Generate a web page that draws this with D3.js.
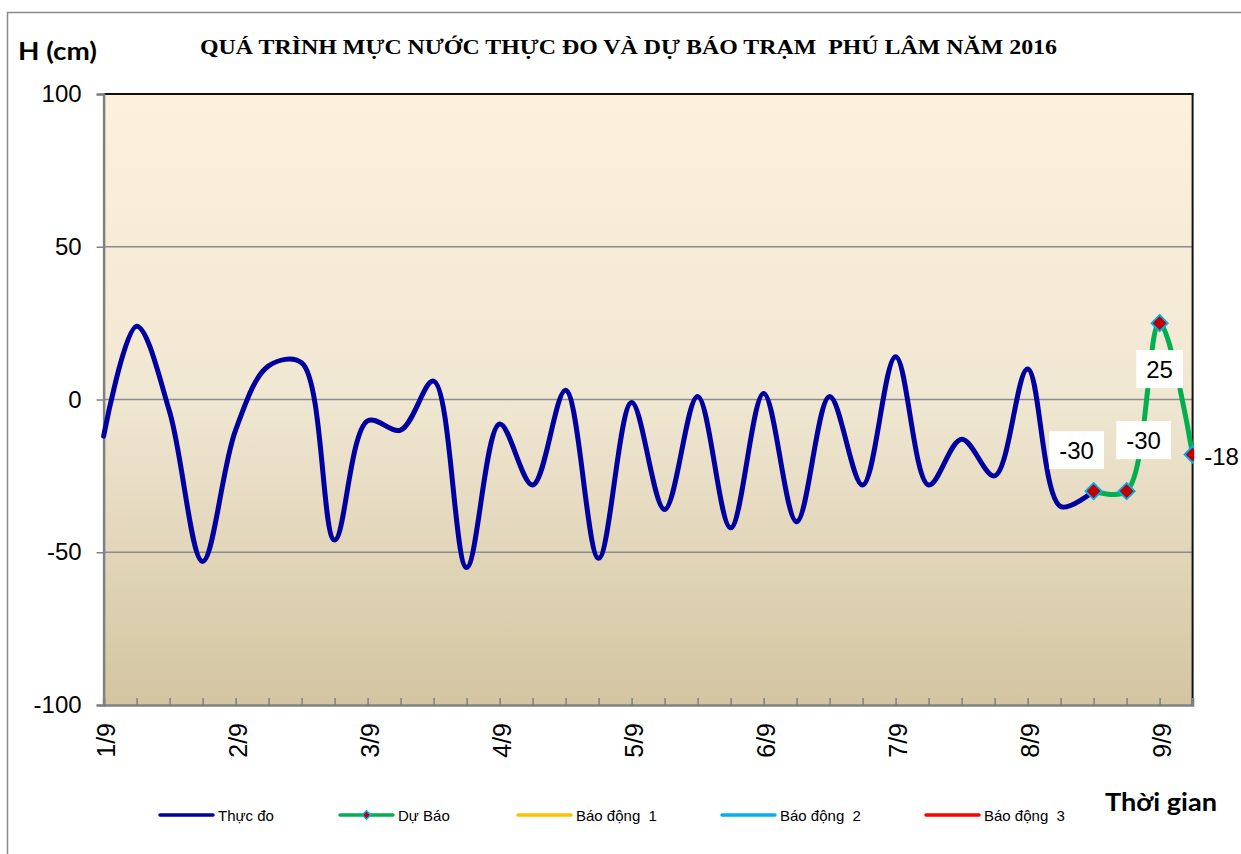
<!DOCTYPE html>
<html><head><meta charset="utf-8">
<script src="https://cdn.jsdelivr.net/npm/d3@7"></script>
<style>
html,body{margin:0;padding:0;background:#fff;}
text{white-space:pre;}
</style></head>
<body>
<svg id="chart" width="1241" height="854"></svg>
<script>
// ---- data ----
const dayLabels = ["1/9","2/9","3/9","4/9","5/9","6/9","7/9","8/9","9/9"];
const stepsPerDay = 4; // 6-hour steps
const observed = [-12, 24, -4, -53, -10, 11, 12, -46, -7, -10, 6, -55, -8, -28, 3, -52, -1, -36, 1, -42, 2, -40, 1, -28, 14, -28, -13, -25, 10, -35, -30];
const forecast = [-30, -30, 25, -18];
const forecastStart = 30;
const yTicks = [-100, -50, 0, 50, 100];
const legendNames = ["Thực đo", "Dự Báo", "Báo động  1", "Báo động  2", "Báo động  3"];
const legendColors = ["#0000a0", "#00b050", "#ffc000", "#00b0f0", "#ff0000"];
const titleText = "QUÁ TRÌNH MỰC NƯỚC THỰC ĐO VÀ DỰ BÁO TRẠM  PHÚ LÂM NĂM 2016";

// ---- layout ----
const nSteps = 33;
const L = 103.6, R = 1192.6, T = 94, B = 705;
const svg = d3.select("#chart");
const x = d3.scaleLinear().domain([0, nSteps]).range([L, R]);
const y = d3.scaleLinear().domain([-100, 100]).range([B, T]);
const sans = "'Liberation Sans', Arial, sans-serif";

// outer frame
svg.append("rect").attr("x", 7.5).attr("y", 12.5).attr("width", 1250).attr("height", 860)
  .attr("fill", "#fff").attr("stroke", "#8a8a8a").attr("stroke-width", 1.5);

// gradient
const defs = svg.append("defs");
const grad = defs.append("linearGradient").attr("id", "bg").attr("x1", 0).attr("y1", 0).attr("x2", 0).attr("y2", 1);
grad.append("stop").attr("offset", "0%").attr("stop-color", "#fef1dc");
grad.append("stop").attr("offset", "50%").attr("stop-color", "#f0e7d2");
grad.append("stop").attr("offset", "100%").attr("stop-color", "#d3c5a1");
svg.append("rect").attr("x", L).attr("y", T).attr("width", R - L).attr("height", B - T).attr("fill", "url(#bg)");

// gridlines
svg.append("g").selectAll("line").data(yTicks.filter(d => d > -100 && d < 100)).join("line")
  .attr("x1", L).attr("x2", R).attr("y1", d => y(d)).attr("y2", d => y(d))
  .attr("stroke", "#8c8c8c").attr("stroke-width", 1.6);

// plot border top/right
svg.append("line").attr("x1", L).attr("x2", R + 1).attr("y1", T).attr("y2", T).attr("stroke", "#111").attr("stroke-width", 2);
svg.append("line").attr("x1", R).attr("x2", R).attr("y1", T).attr("y2", B).attr("stroke", "#111").attr("stroke-width", 2);

// y axis
const yAxis = d3.axisLeft(y).tickValues(yTicks).tickSize(7).tickPadding(15).tickFormat(d => String(d));
const gy = svg.append("g").attr("transform", `translate(${L},0)`).call(yAxis);
gy.select(".domain").attr("stroke", "#808080").attr("stroke-width", 2.5);
gy.selectAll(".tick line").attr("stroke", "#808080").attr("stroke-width", 1.5);
gy.selectAll(".tick text").attr("font-family", sans).attr("font-size", 24).attr("fill", "#000");

// x axis
const xAxis = d3.axisBottom(x).tickValues(d3.range(0, nSteps + 1)).tickSize(-7).tickFormat("");
const gx = svg.append("g").attr("transform", `translate(0,${B})`).call(xAxis);
gx.select(".domain").attr("stroke", "#808080").attr("stroke-width", 2.5);
gx.selectAll(".tick line").attr("stroke", "#808080").attr("stroke-width", 1.5);
svg.append("g").selectAll("text").data(dayLabels).join("text")
  .attr("transform", (d, i) => `translate(${x(i * stepsPerDay) + 2},${B + 18}) rotate(-90)`)
  .attr("text-anchor", "end").attr("dominant-baseline", "central")
  .attr("font-family", sans).attr("font-size", 25).text(d => d);

// lines
const curve = d3.curveCatmullRom.alpha(0.5);
const line = d3.line().x(d => x(d[0])).y(d => y(d[1])).curve(curve);
const obsPts = observed.map((v, i) => [i, v]);
const fcPts = forecast.map((v, i) => [forecastStart + i, v]);
svg.append("path").attr("d", line(obsPts)).attr("fill", "none").attr("stroke", "#0000a0").attr("stroke-width", 5).attr("stroke-linecap", "round");
svg.append("path").attr("d", line(fcPts)).attr("fill", "none").attr("stroke", "#00b050").attr("stroke-width", 5).attr("stroke-linecap", "round");

// markers
const diamond = d3.symbol().type(d3.symbolDiamond2).size(170);
svg.append("g").selectAll("path").data(fcPts).join("path")
  .attr("d", diamond).attr("transform", d => `translate(${x(d[0])},${y(d[1])})`)
  .attr("fill", "#c00000").attr("stroke", "#00b0f0").attr("stroke-width", 1.8);

// data labels (offsets relative to the point)
const labelOffsets = [[-17, -41], [17, -51], [0, 46], [29, 2]];
const lg = svg.append("g");
fcPts.forEach((d, i) => {
  const cx = x(d[0]) + labelOffsets[i][0], cy = y(d[1]) + labelOffsets[i][1];
  const t = lg.append("text").attr("x", cx).attr("y", cy).attr("text-anchor", "middle").attr("dominant-baseline", "central")
    .attr("font-family", sans).attr("font-size", 24).text(String(d[1]));
  const bb = t.node().getBBox();
  lg.insert("rect", "text").attr("x", bb.x - 10).attr("y", cy - 19).attr("width", bb.width + 20).attr("height", 38).attr("fill", "#fff");
});

// titles
svg.append("text").attr("x", 200).attr("y", 54).attr("font-family", "'Liberation Serif', 'Times New Roman', serif")
  .attr("font-weight", "bold").attr("font-size", 21).attr("textLength", 857).attr("lengthAdjust", "spacingAndGlyphs").text(titleText);
svg.append("text").attr("x", 18).attr("y", 60).attr("font-family", "Lato, 'Open Sans', sans-serif")
  .attr("font-weight", "bold").attr("font-size", 25).attr("textLength", 79).attr("lengthAdjust", "spacingAndGlyphs").text("H (cm)");
svg.append("text").attr("x", 1105).attr("y", 811).attr("font-family", "Lato, 'Open Sans', sans-serif")
  .attr("font-weight", "bold").attr("font-size", 25).attr("textLength", 112).attr("lengthAdjust", "spacingAndGlyphs").text("Thời gian");

// legend
const legX = [160, 340, 518, 722, 926];
const legY = 815;
const leg = svg.append("g");
legendNames.forEach((n, i) => {
  leg.append("line").attr("x1", legX[i]).attr("x2", legX[i] + 53).attr("y1", legY).attr("y2", legY)
    .attr("stroke", legendColors[i]).attr("stroke-width", 3.5).attr("stroke-linecap", "round");
  if (i === 1) {
    leg.append("path").attr("d", d3.symbol().type(d3.symbolDiamond2).size(45))
      .attr("transform", `translate(${legX[i] + 26.5},${legY})`)
      .attr("fill", "#c00000").attr("stroke", "#00b0f0").attr("stroke-width", 1.5);
  }
  leg.append("text").attr("x", legX[i] + 58).attr("y", legY).attr("dominant-baseline", "central")
    .attr("font-family", sans).attr("font-size", 15).text(n);
});
</script>
</body></html>
